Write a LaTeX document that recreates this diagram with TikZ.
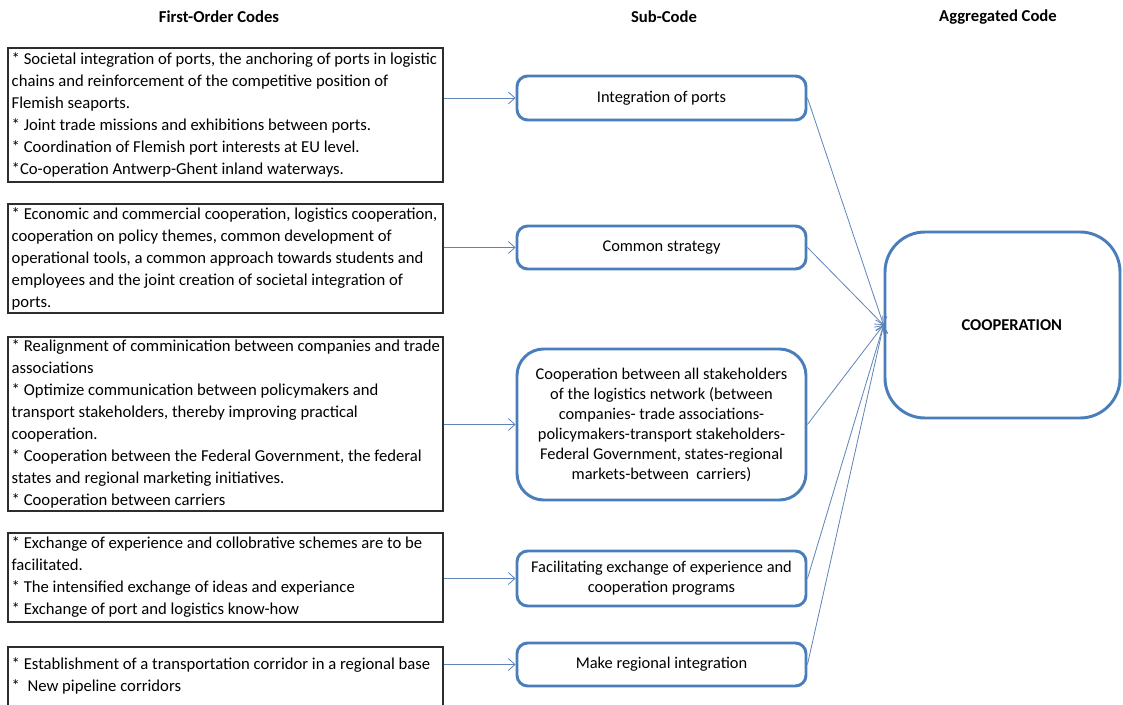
\documentclass[tikz,border=0pt]{standalone}
\usepackage{fontspec}
\setmainfont{Carlito}
\usetikzlibrary{arrows.meta,fit}
\definecolor{boxblue}{RGB}{74,126,187}
\definecolor{linkblue}{RGB}{96,132,184}
\definecolor{framegray}{RGB}{45,45,45}

\begin{document}
\begin{tikzpicture}[x=0.75pt,y=-0.75pt,
  header/.style={font=\fontsize{12.5}{14}\selectfont\bfseries, inner sep=0pt},
  codebox/.style={draw=framegray, line width=0.8pt, inner sep=0pt},
  codetext/.style={align=left, inner sep=0pt, font=\fontsize{12.5}{16.5}\selectfont},
  subbox/.style={draw=boxblue, line width=2.2pt, rounded corners=8pt, inner sep=0pt,
    minimum width=216.75pt, align=center, font=\fontsize{12.3}{15}\selectfont},
  aggbox/.style={draw=boxblue, line width=2.2pt, rounded corners=30pt, inner sep=0pt,
    minimum width=176.25pt, minimum height=139.5pt,
    font=\fontsize{12.4}{14}\selectfont\bfseries},
  link/.style={draw=linkblue, line width=0.6pt, -{Straight Barb[length=5pt,width=9pt]}}
]
\useasboundingbox (0,0) rectangle (1123,705);
\fill[white] (0,0) rectangle (1123,705);
\clip (0,0) rectangle (1123,705);

% column headings
\node[header] (h1) at (219,17) {First-Order Codes};
\node[header] (h2) at (664,17) {Sub-Code};
\node[header] (h3) at (998,17) {Aggregated Code};

% first-order code boxes
\node[codebox, fit={(8,48) (443,182)}] (c1) {};
\node[codetext, anchor=west] (t1) at ([xshift=3pt]c1.west) {%
* Societal integration of ports, the anchoring of ports in logistic\\
chains and reinforcement of the competitive position of\\
Flemish seaports.\\
* Joint trade missions and exhibitions between ports.\\
* Coordination of Flemish port interests at EU level.\\
*Co-operation Antwerp-Ghent inland waterways.};

\node[codebox, fit={(8,204) (443,313)}] (c2) {};
\node[codetext, anchor=west] (t2) at ([xshift=3pt]c2.west) {%
* Economic and commercial cooperation, logistics cooperation,\\
cooperation on policy themes, common development of\\
operational tools, a common approach towards students and\\
employees and the joint creation of societal integration of\\
ports.};

\node[codebox, fit={(8,337) (443,511)}] (c3) {};
\node[codetext, anchor=west] (t3) at ([xshift=3pt]c3.west) {%
* Realignment of comminication between companies and trade\\
associations\\
* Optimize communication between policymakers and\\
transport stakeholders, thereby improving practical\\
cooperation.\\
* Cooperation between the Federal Government, the federal\\
states and regional marketing initiatives.\\
* Cooperation between carriers};

\node[codebox, fit={(8,533) (443,622)}] (c4) {};
\node[codetext, anchor=west] (t4) at ([xshift=3pt]c4.west) {%
* Exchange of experience and collobrative schemes are to be\\
facilitated.\\
* The intensified exchange of ideas and experiance\\
* Exchange of port and logistics know-how};

\node[codebox, fit={(8,647) (443,715)}] (c5) {};
\node[codetext, anchor=north west] (t5) at ([shift={(4,11)}]c5.north west) {%
* Establishment of a transportation corridor in a regional base\\
*\ \ New pipeline corridors};

% sub-code boxes
\node[subbox, minimum height=33pt] (s1) at (661.5,98) {Integration of ports};
\node[subbox, minimum height=32.25pt] (s2) at (661.5,247.5) {Common strategy};
\node[subbox, rounded corners=20pt, minimum height=113.25pt] (s3) at (661.5,424.5) {%
Cooperation between all stakeholders\\
of the logistics network (between\\
companies- trade associations-\\
policymakers-transport stakeholders-\\
Federal Government, states-regional\\
markets-between\ \ carriers)};
\node[subbox, minimum height=41.25pt] (s4) at (661.5,578.5) {%
Facilitating exchange of experience and\\
cooperation programs};
\node[subbox, minimum height=32.25pt] (s5) at (661.5,664.5) {Make regional integration};

% aggregated code
\node[aggbox] (agg) at (1002.5,325) {\hspace*{14pt}COOPERATION};

% first-order codes to sub-codes
\draw[link] (c1.east |- s1.west) -- (s1.west);
\draw[link] (c2.east |- s2.west) -- (s2.west);
\draw[link] (c3.east |- s3.west) -- (s3.west);
\draw[link] (c4.east |- s4.west) -- (s4.west);
\draw[link] (c5.east |- s5.west) -- (s5.west);

% sub-codes to aggregated code
\foreach \s in {s1,s2,s3,s4,s5}
  \draw[link] (\s.east) -- (agg.west);
\end{tikzpicture}
\end{document}
